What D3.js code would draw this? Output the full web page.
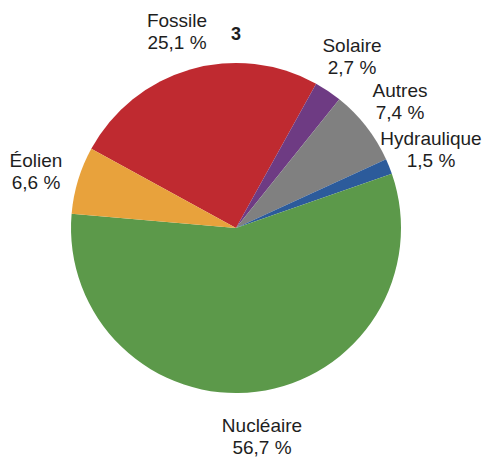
<!DOCTYPE html>
<html>
<head>
<meta charset="utf-8">
<script src="https://cdn.jsdelivr.net/npm/d3@7"></script>
<style>
  html, body { margin: 0; padding: 0; background: #fff; }
  svg text { font-family: "Liberation Sans", Arial, Helvetica, sans-serif; fill: #1e1e1e; }
</style>
</head>
<body>
<svg id="chart" width="485" height="458"></svg>
<script>
// Data (clockwise from the Fossile slice)
const categories = ["Fossile", "Solaire", "Autres", "Hydraulique", "Nucléaire", "Éolien"];
const values = [25.1, 2.7, 7.4, 1.5, 56.7, 6.6];
const valueLabels = ["25,1 %", "2,7 %", "7,4 %", "1,5 %", "56,7 %", "6,6 %"];
const colors = ["#BF2A30", "#6E3B83", "#808080", "#2C5B9B", "#5C994A", "#E8A23C"];
// label anchor positions (centre x, baseline of first line)
const labelPos = [[177, 27], [352, 52], [400, 97], [431, 145], [262, 432], [36, 167]];
const figureNumber = "3";

const svg = d3.select("#chart");
const cx = 236, cy = 228, r = 165;
const start = -61.3 * Math.PI / 180;

const pie = d3.pie().sort(null).value(d => d.v)
  .startAngle(start).endAngle(start + 2 * Math.PI);
const arc = d3.arc().innerRadius(0).outerRadius(r);
const data = categories.map((c, i) => ({ c, v: values[i], lab: valueLabels[i], col: colors[i], pos: labelPos[i] }));

const g = svg.append("g").attr("transform", `translate(${cx},${cy})`);
g.selectAll("path").data(pie(data)).join("path")
  .attr("d", arc)
  .attr("fill", d => d.data.col);

const labels = svg.append("g").selectAll("text").data(data).join("text")
  .attr("text-anchor", "middle")
  .attr("font-size", 19)
  .attr("x", d => d.pos[0])
  .attr("y", d => d.pos[1]);
labels.append("tspan").attr("x", d => d.pos[0]).text(d => d.c);
labels.append("tspan").attr("x", d => d.pos[0]).attr("dy", 22).text(d => d.lab);

svg.append("text")
  .attr("x", 236).attr("y", 40)
  .attr("text-anchor", "middle")
  .attr("font-size", 18)
  .attr("font-weight", "bold")
  .text(figureNumber);
</script>
</body>
</html>
